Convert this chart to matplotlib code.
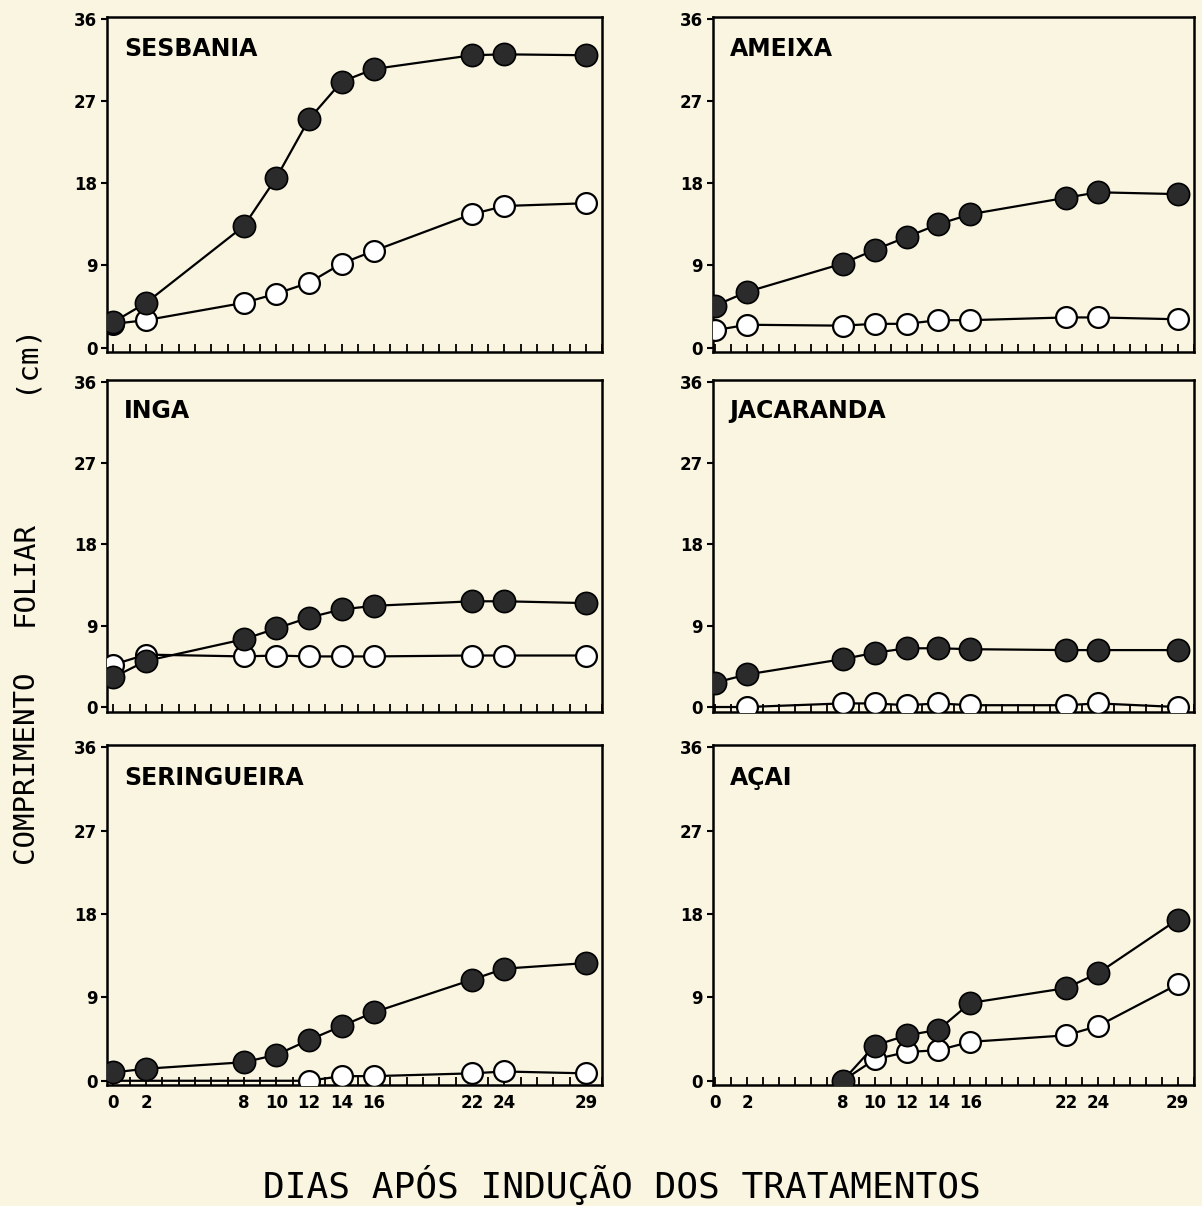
import matplotlib
matplotlib.use("Agg")
import matplotlib.pyplot as plt
import numpy as np

# dias apos inducao dos tratamentos
dias = [0, 2, 8, 10, 12, 14, 16, 22, 24, 29]
dias_acai = [8, 10, 12, 14, 16, 22, 24, 29]

# comprimento foliar (cm) - simbolo cheio / simbolo vazio
sesbania_cheio = [2.8, 4.9, 13.3, 18.6, 25.0, 29.1, 30.5, 32.0, 32.1, 32.0]
sesbania_vazio = [2.6, 3.0, 4.9, 5.9, 7.1, 9.2, 10.6, 14.6, 15.5, 15.8]

ameixa_cheio = [4.6, 6.1, 9.2, 10.7, 12.1, 13.5, 14.6, 16.4, 17.0, 16.8]
ameixa_vazio = [1.9, 2.5, 2.4, 2.6, 2.6, 3.0, 3.0, 3.3, 3.3, 3.1]

inga_cheio = [3.3, 5.1, 7.5, 8.7, 9.9, 10.8, 11.2, 11.7, 11.7, 11.5]
inga_vazio = [4.7, 5.8, 5.6, 5.7, 5.6, 5.6, 5.6, 5.7, 5.7, 5.7]

jacaranda_cheio = [2.7, 3.6, 5.3, 6.0, 6.5, 6.5, 6.4, 6.3, 6.3, 6.3]
jacaranda_vazio = [0.0, 0.0, 0.4, 0.4, 0.2, 0.4, 0.2, 0.2, 0.4, 0.0]

seringueira_cheio = [0.9, 1.3, 2.0, 2.8, 4.4, 5.9, 7.4, 10.9, 12.1, 12.7]
seringueira_vazio = [0.0, 0.0, 0.0, 0.0, 0.0, 0.5, 0.5, 0.8, 1.0, 0.8]

acai_cheio = [0.0, 3.8, 4.9, 5.5, 8.4, 10.0, 11.6, 17.4]
acai_vazio = [0.0, 2.3, 3.1, 3.3, 4.2, 4.9, 5.9, 10.4]

especies = ["SESBANIA", "AMEIXA", "INGA", "JACARANDA", "SERINGUEIRA", "AÇAI"]
yticks = [0, 9, 18, 27, 36]
xticks_lab = [0, 2, 8, 10, 12, 14, 16, 22, 24, 29]

fundo = "#f9f5e0"
fig = plt.figure(figsize=(12.02, 12.06), dpi=100, facecolor=fundo)

col_left = [0.089, 0.593]
col_width = [0.412, 0.400]
row_bottom = [0.708, 0.410, 0.100]
row_height = [0.278, 0.275, 0.282]
xlims = [(-0.4, 30.0), (-0.15, 29.8)]

paineis = [
    (dias, sesbania_cheio, dias, sesbania_vazio, 0),
    (dias, ameixa_cheio, dias, ameixa_vazio, 0),
    (dias, inga_cheio, dias, inga_vazio, 0),
    (dias, jacaranda_cheio, dias, jacaranda_vazio, 1),
    (dias, seringueira_cheio, dias, seringueira_vazio, 4),
    (dias_acai, acai_cheio, dias_acai, acai_vazio, 0),
]

for i, (xc, yc, xv, yv, m0) in enumerate(paineis):
    r, c = divmod(i, 2)
    ax = fig.add_axes([col_left[c], row_bottom[r], col_width[c], row_height[r]])
    ax.set_facecolor(fundo)

    ax.plot(xv, yv, color="black", lw=1.6, marker="o", ms=15,
            mfc="white", mec="black", mew=1.6,
            markevery=list(range(m0, len(xv))), zorder=3)
    ax.plot(xc, yc, color="black", lw=1.6, marker="o", ms=16,
            mfc="#2b2b2b", mec="black", mew=1.2, zorder=4)

    ax.set_xlim(*xlims[c])
    ax.set_ylim(-0.5, 36.2)
    ax.set_yticks(yticks)
    ax.set_yticklabels([str(v) for v in yticks], fontsize=12, fontweight="bold")
    ax.tick_params(axis="y", direction="out", length=4, width=1.5, pad=3)

    ax.set_xticks(np.arange(0, 31), minor=True)
    ax.tick_params(axis="x", which="minor", direction="in", length=6, width=1.3)
    if r == 2:
        ax.set_xticks(xticks_lab)
        ax.set_xticklabels([str(v) for v in xticks_lab], fontsize=12, fontweight="bold")
        ax.tick_params(axis="x", which="major", direction="in", length=6, width=1.3, pad=6)
    else:
        ax.set_xticks([])

    for s in ax.spines.values():
        s.set_linewidth(1.8)

    ax.text(0.035, 0.905, especies[i], transform=ax.transAxes,
            fontsize=17, fontweight="bold", va="center", ha="left")

# rotulo do eixo y em tres partes, como no original
fonte_plot = "DejaVu Sans Mono"
for txt, yc in [("COMPRIMENTO", 767), ("FOLIAR", 573), ("(cm)", 358)]:
    fig.text(25 / 1202, 1 - yc / 1206, txt, rotation=90, fontsize=21,
             family=fonte_plot, ha="center", va="center")

fig.text(622 / 1202, 1 - 1185 / 1206, "DIAS APÓS INDUÇÃO DOS TRATAMENTOS",
         fontsize=26, family=fonte_plot, ha="center", va="center")

fig.savefig("out.png", dpi=100, facecolor=fundo)
